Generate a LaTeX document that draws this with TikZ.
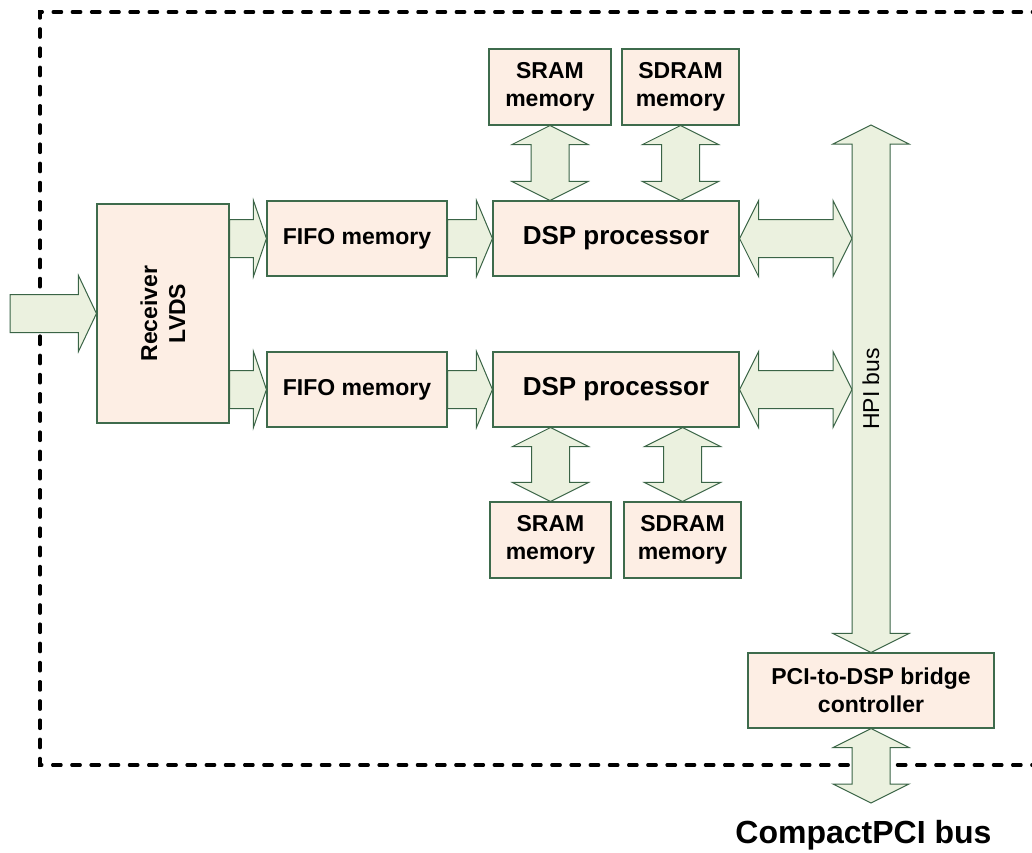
\documentclass[tikz,border=0pt]{standalone}
\usepackage{fontspec}
\setmainfont{Liberation Sans}
\usetikzlibrary{calc}
\definecolor{boxfill}{HTML}{FDEEE4}
\definecolor{boxline}{HTML}{3E6B4C}
\definecolor{arrfill}{HTML}{EBF1DF}
\definecolor{arrline}{HTML}{3A6446}
\tikzset{
  blk/.style={draw=boxline, fill=boxfill, line width=1.1pt, inner sep=0pt, align=center,
    font=\bfseries\fontsize{23}{28}\selectfont},
  barrow/.style={draw=arrline, fill=arrfill, line width=1pt, line join=miter},
}
% single right arrow: #1 start, #2 tip, #3 head length
\newcommand\rarr[3]{%
  \path[barrow] let \p1=(#1), \p2=(#2) in
    (\x1,{\y2+19pt}) -- ({\x2-#3},{\y2+19pt}) -- ({\x2-#3},{\y2+38pt}) -- (\x2,\y2)
    -- ({\x2-#3},{\y2-38pt}) -- ({\x2-#3},{\y2-19pt}) -- (\x1,{\y2-19pt}) -- cycle;}
% horizontal double arrow: #1 left tip, #2 right tip
\newcommand\hdarr[2]{%
  \path[barrow] let \p1=(#1), \p2=(#2) in
    (\x1,\y1) -- ({\x1+19pt},{\y1+38pt}) -- ({\x1+19pt},{\y1+19pt}) -- ({\x2-19pt},{\y1+19pt})
    -- ({\x2-19pt},{\y1+38pt}) -- (\x2,\y1) -- ({\x2-19pt},{\y1-38pt}) -- ({\x2-19pt},{\y1-19pt})
    -- ({\x1+19pt},{\y1-19pt}) -- ({\x1+19pt},{\y1-38pt}) -- cycle;}
% vertical double arrow: #1 top tip, #2 bottom tip
\newcommand\vdarr[2]{%
  \path[barrow] let \p1=(#1), \p2=(#2) in
    (\x1,\y1) -- ({\x1+38pt},{\y1-19pt}) -- ({\x1+19pt},{\y1-19pt}) -- ({\x1+19pt},{\y2+19pt})
    -- ({\x1+38pt},{\y2+19pt}) -- (\x1,\y2) -- ({\x1-38pt},{\y2+19pt}) -- ({\x1-19pt},{\y2+19pt})
    -- ({\x1-19pt},{\y1-19pt}) -- ({\x1-38pt},{\y1-19pt}) -- cycle;}
\begin{document}
\begin{tikzpicture}[x=1pt,y=-1pt]
\useasboundingbox (0,0) rectangle (1032,852);
\clip (0,0) rectangle (1032,852);
% dashed frame
\draw[line width=3.2pt, dash pattern=on 8.5pt off 10.7pt, line cap=round]
  (1060,12) -- (40,12) -- (40,765) -- (1060,765);
% boxes
\node[blk, minimum width=132pt, minimum height=219pt] (rx) at (163,313.5) {};
\node[rotate=90, font=\bfseries\fontsize{23}{28}\selectfont, align=center] (rxl) at (rx.center) {Receiver\\LVDS};
\node[blk, minimum width=180pt, minimum height=75pt] (f1) at (357,238.5) {FIFO memory};
\node[blk, minimum width=180pt, minimum height=75pt] (f2) at (357,389.5) {FIFO memory};
\node[blk, minimum width=246pt, minimum height=75pt, font=\bfseries\fontsize{26}{30}\selectfont] (d1) at (616,238.5) {DSP processor};
\node[blk, minimum width=246pt, minimum height=75pt, font=\bfseries\fontsize{26}{30}\selectfont] (d2) at (616,389.5) {DSP processor};
\node[blk, minimum width=122pt, minimum height=76pt] (s1) at (550,87) {SRAM\\memory};
\node[blk, minimum width=117pt, minimum height=76pt] (sd1) at (680.5,87) {SDRAM\\memory};
\node[blk, minimum width=121pt, minimum height=76pt] (s2) at (550.5,540) {SRAM\\memory};
\node[blk, minimum width=117pt, minimum height=76pt] (sd2) at (682.5,540) {SDRAM\\memory};
\node[blk, minimum width=246pt, minimum height=75pt] (br) at (871,690.5) {PCI-to-DSP bridge\\controller};
% free coordinates
\coordinate (in) at (10,313.5);
\coordinate (hpitop) at (871,125);
\coordinate (hpil) at (852,0);
\coordinate (cpci) at (871,803);
% arrows
\rarr{in}{rx.west}{18pt}
\rarr{rx.east |- f1.west}{f1.west}{13pt}
\rarr{rx.east |- f2.west}{f2.west}{13pt}
\rarr{f1.east}{d1.west}{16pt}
\rarr{f2.east}{d2.west}{16pt}
\hdarr{d1.east}{hpil |- d1.east}
\hdarr{d2.east}{hpil |- d2.east}
\vdarr{s1.south}{s1.south |- d1.north}
\vdarr{sd1.south}{sd1.south |- d1.north}
\vdarr{s2.north |- d2.south}{s2.north}
\vdarr{sd2.north |- d2.south}{sd2.north}
\vdarr{hpitop}{br.north}
\vdarr{br.south}{cpci}
% labels
\node[rotate=90, font=\fontsize{23}{28}\selectfont] (hpi) at (871,389) {HPI bus};
\node[anchor=base, font=\bfseries\fontsize{32}{36}\selectfont] (cpl) at (863.5,843) {CompactPCI bus};
\end{tikzpicture}
\end{document}
